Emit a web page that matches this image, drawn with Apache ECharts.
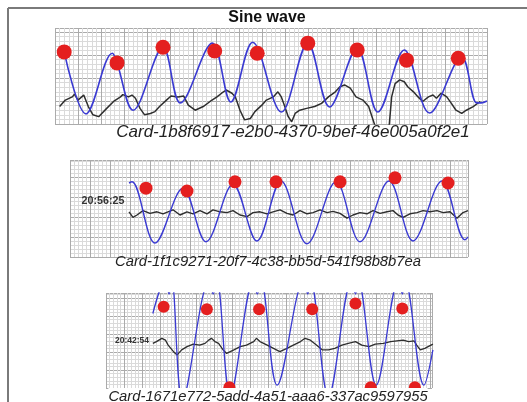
<!DOCTYPE html>
<html>
<head>
<meta charset="utf-8">
<script src="https://cdn.jsdelivr.net/npm/echarts@6/dist/echarts.min.js"></script>
<style>
  html, body { margin: 0; padding: 0; background: #fff; }
  #main { width: 527px; height: 402px; }
</style>
</head>
<body>
<div id="main"></div>
<script>
// panel captions / time stamps
var cardNames = [
  'Card-1b8f6917-e2b0-4370-9bef-46e005a0f2e1',
  'Card-1f1c9271-20f7-4c38-bb5d-541f98b8b7ea',
  'Card-1671e772-5add-4a51-aaa6-337ac9597955'
];
var stamps = ['', '20:56:25', '20:42:54'];

// x = seconds, y = mV
// panel 1
var p1Blue = [[0.08,1.57],[0.27,0.22],[0.50,1.54],[0.54,1.33],[0.68,0.30],[0.94,1.67],[1.09,0.46],
  [1.37,1.76],[1.53,0.48],[1.72,1.78],[1.97,0.26],[2.20,1.76],[2.39,0.37],[2.63,1.65],[2.81,0.26],
  [3.04,1.61],[3.26,0.24],[3.54,1.46],[3.67,0.46],[3.71,0.46],[3.76,0.50]];
var p1Black = [[0.04,0.38],[0.09,0.52],[0.15,0.59],[0.17,0.65],[0.20,0.52],[0.25,0.63],[0.29,0.38],
  [0.33,0.20],[0.38,0.16],[0.39,0.20],[0.45,0.34],[0.51,0.49],[0.57,0.59],[0.59,0.64],[0.64,0.59],
  [0.67,0.63],[0.70,0.56],[0.74,0.34],[0.78,0.20],[0.83,0.23],[0.87,0.27],[0.91,0.38],[0.97,0.52],
  [1.01,0.61],[1.07,0.59],[1.12,0.61],[1.16,0.41],[1.22,0.30],[1.29,0.38],[1.35,0.49],[1.41,0.59],
  [1.45,0.67],[1.49,0.74],[1.54,0.67],[1.57,0.59],[1.61,0.30],[1.65,0.09],[1.70,0.12],[1.74,0.27],
  [1.80,0.41],[1.84,0.52],[1.90,0.59],[1.94,0.70],[1.97,0.59],[2.00,0.38],[2.03,0.16],[2.06,0.05],
  [2.09,0.23],[2.13,0.30],[2.19,0.34],[2.26,0.38],[2.32,0.45],[2.38,0.59],[2.44,0.70],[2.48,0.81],
  [2.52,0.85],[2.57,0.78],[2.62,0.59],[2.68,0.52],[2.73,0.38],[2.75,0.23],[2.78,0.00],[2.81,-0.35],
  [2.88,-0.35],[2.91,0.00],[2.93,0.59],[2.96,0.88],[3.00,0.96],[3.04,0.92],[3.07,0.81],[3.12,0.70],
  [3.16,0.59],[3.20,0.49],[3.25,0.59],[3.29,0.63],[3.32,0.56],[3.36,0.67],[3.41,0.59],[3.45,0.45],
  [3.49,0.30],[3.54,0.23],[3.58,0.30],[3.64,0.38],[3.70,0.49]];
var p1Dots = [[0.08,1.57],[0.54,1.33],[0.94,1.67],[1.39,1.59],[1.76,1.54],[2.20,1.76],[2.63,1.61],
  [3.06,1.39],[3.51,1.43]];

// panel 2
var p2Blue = [[0.59,1.85],[0.62,1.88],[0.85,0.35],[1.13,1.72],[1.36,0.38],[1.63,1.82],[1.87,0.40],
  [2.11,1.90],[2.37,0.33],[2.66,1.88],[2.90,0.38],[3.19,1.90],[3.43,0.40],[3.72,1.90],[3.95,0.43],
  [3.98,0.50]];
var p2Black = [[0.59,1.13],[0.63,0.99],[0.67,1.05],[0.73,1.16],[0.80,1.09],[0.87,1.13],[0.93,1.08],
  [0.98,1.13],[1.03,1.18],[1.10,1.05],[1.17,1.13],[1.23,1.08],[1.30,1.16],[1.37,1.08],[1.43,1.18],
  [1.50,1.13],[1.57,1.11],[1.63,1.16],[1.70,1.05],[1.77,1.01],[1.83,1.11],[1.90,1.13],[1.97,1.08],
  [2.03,1.13],[2.10,1.18],[2.17,1.09],[2.23,1.05],[2.30,1.16],[2.37,1.08],[2.43,1.11],[2.50,1.18],
  [2.57,1.11],[2.63,1.14],[2.70,1.09],[2.77,0.97],[2.83,1.05],[2.90,1.11],[2.97,1.08],[3.03,1.16],
  [3.10,1.09],[3.17,1.13],[3.23,1.16],[3.28,1.05],[3.33,0.99],[3.40,1.08],[3.47,1.11],[3.53,1.16],
  [3.60,1.13],[3.67,1.16],[3.73,1.11],[3.80,1.13],[3.87,0.97],[3.93,1.11],[3.98,1.16]];
var p2Dots = [[0.76,1.72],[1.17,1.65],[1.65,1.88],[2.06,1.88],[2.70,1.88],[3.25,1.98],[3.78,1.85]];

// panel 3
var p3Blue = [[0.52,2.07],[0.66,3.00],[0.70,2.61],[0.73,3.00],[0.85,-0.33],[1.15,3.00],[1.19,2.61],
  [1.23,3.00],[1.38,-0.20],[1.64,3.00],[1.68,2.61],[1.72,3.00],[1.90,0.08],[2.20,3.00],[2.24,2.61],
  [2.27,3.00],[2.47,-0.24],[2.73,3.00],[2.77,2.61],[2.80,3.00],[3.00,0.08],[3.25,3.00],[3.29,2.61],
  [3.32,3.00],[3.53,0.08],[3.63,1.06]];
var p3Black = [[0.52,1.24],[0.56,1.29],[0.62,1.38],[0.66,1.33],[0.69,1.19],[0.75,1.01],[0.79,0.92],
  [0.84,1.06],[0.90,1.15],[0.97,1.22],[1.04,1.19],[1.10,1.24],[1.14,1.33],[1.17,1.38],[1.21,1.29],
  [1.25,1.24],[1.30,1.06],[1.34,0.96],[1.42,1.06],[1.49,1.15],[1.56,1.19],[1.64,1.29],[1.67,1.38],
  [1.71,1.29],[1.79,1.19],[1.86,1.10],[1.93,1.01],[2.01,1.10],[2.08,1.19],[2.16,1.29],[2.21,1.38],
  [2.27,1.33],[2.34,1.19],[2.40,1.06],[2.47,1.06],[2.54,1.10],[2.62,1.19],[2.69,1.24],[2.77,1.29],
  [2.84,1.19],[2.92,1.15],[2.99,1.22],[3.08,1.24],[3.16,1.29],[3.23,1.31],[3.30,1.33],[3.36,1.29],
  [3.42,1.31],[3.45,1.19],[3.49,1.06],[3.54,1.10],[3.63,1.22]];
var p3Dots = [[0.64,2.26],[1.12,2.19],[1.70,2.19],[2.29,2.19],[2.77,2.35],[3.29,2.21],
  [1.37,0.02],[2.94,0.02],[3.43,0.02]];

var chart = echarts.init(document.getElementById('main'), null, { renderer: 'canvas' });

function xAx(i, max) {
  return {
    type: 'value', gridIndex: i, min: 0, max: max, interval: 0.2,
    axisLine: { show: false }, axisTick: { show: false }, axisLabel: { show: false },
    splitLine: { show: true, lineStyle: { color: '#ababab', width: 1 } },
    minorTick: { show: false, splitNumber: 5 },
    minorSplitLine: { show: true, lineStyle: { color: '#dadada', width: 1 } }
  };
}
function yAx(i, max) {
  var a = xAx(i, max);
  a.interval = 0.5;
  return a;
}
function line(i, data, color, w, smooth) {
  return {
    type: 'line', xAxisIndex: i, yAxisIndex: i, data: data, smooth: smooth,
    showSymbol: false, symbol: 'none', clip: true,
    lineStyle: { color: color, width: w }
  };
}
function dots(i, data, size) {
  return {
    type: 'scatter', xAxisIndex: i, yAxisIndex: i, data: data, symbolSize: size, clip: true,
    itemStyle: { color: '#e41f1f', opacity: 1 }, z: 5
  };
}

var blue = '#3a3ad2', dark = '#2e2e2e';

chart.setOption({
  animation: false,
  backgroundColor: '#fff',
  title: {
    text: 'Sine wave', left: 267, top: 10, textAlign: 'center', padding: 0,
    textStyle: { fontFamily: 'Liberation Sans', fontSize: 16, fontWeight: 'bold', color: '#111' }
  },
  grid: [
    { left: 55, top: 28, width: 432, height: 96 },
    { left: 70, top: 160, width: 398, height: 97 },
    { left: 106, top: 293, width: 326, height: 95 }
  ],
  xAxis: [xAx(0, 3.76), xAx(1, 3.98), xAx(2, 3.62)],
  yAxis: [yAx(0, 2.09), yAx(1, 2.425), yAx(2, 2.64)],
  series: [
    line(0, p1Black, dark, 1.5, false),
    line(0, p1Blue, blue, 1.6, 0.35),
    dots(0, p1Dots, 15),
    line(1, p2Black, dark, 1.4, false),
    line(1, p2Blue, blue, 1.4, 0.35),
    dots(1, p2Dots, 13),
    line(2, p3Black, dark, 1.3, false),
    line(2, p3Blue, blue, 1.3, 0.35),
    dots(2, p3Dots, 12)
  ],
  graphic: [
    { type: 'line', shape: { x1: 8, y1: 8, x2: 527, y2: 8 }, style: { stroke: '#7a7a7a', lineWidth: 2 } },
    { type: 'line', shape: { x1: 8, y1: 8, x2: 8, y2: 402 }, style: { stroke: '#7a7a7a', lineWidth: 2 } },
    { type: 'text', x: 293, y: 132, z: 10, style: { text: cardNames[0], textAlign: 'center', textVerticalAlign: 'middle',
      font: 'italic 17px "Liberation Sans"', fill: '#222' } },
    { type: 'text', x: 268, y: 262, z: 10, style: { text: cardNames[1], textAlign: 'center', textVerticalAlign: 'middle',
      font: 'italic 14.8px "Liberation Sans"', fill: '#222' } },
    { type: 'text', x: 268, y: 397, z: 10, style: { text: cardNames[2], textAlign: 'center', textVerticalAlign: 'middle',
      font: 'italic 14.8px "Liberation Sans"', fill: '#222', backgroundColor: '#fff', padding: [1, 0, 2, 0] } },
    { type: 'text', x: 103, y: 201, z: 10, style: { text: stamps[1], textAlign: 'center', textVerticalAlign: 'middle',
      font: 'bold 10.7px "Liberation Sans"', fill: '#333' } },
    { type: 'text', x: 132, y: 341, z: 10, style: { text: stamps[2], textAlign: 'center', textVerticalAlign: 'middle',
      font: 'bold 8.5px "Liberation Sans"', fill: '#333' } }
  ]
});
</script>
</body>
</html>
